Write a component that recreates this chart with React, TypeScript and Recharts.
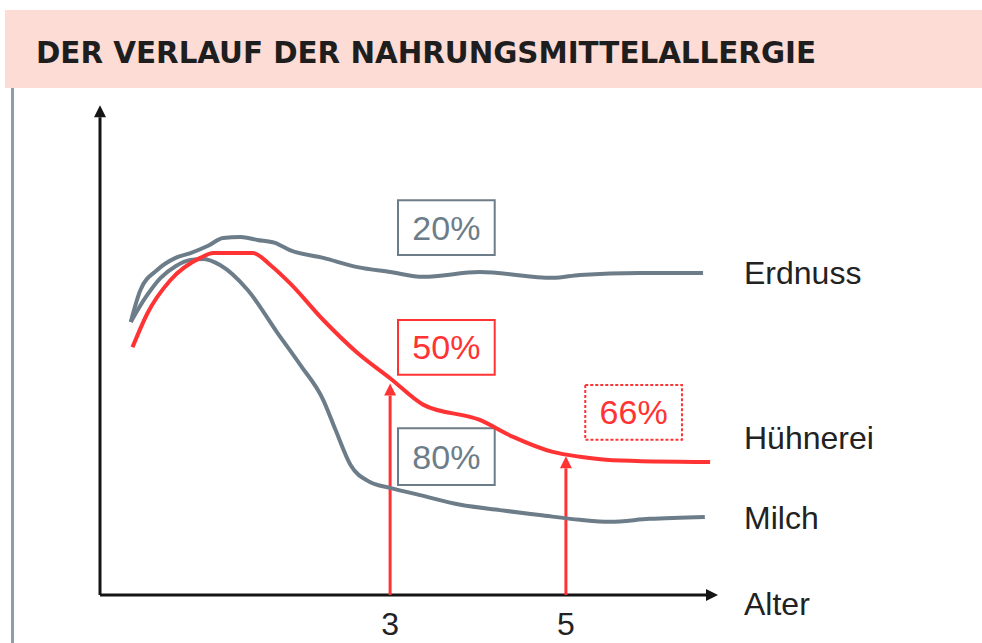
import React from "react";
import { LineChart, Line, XAxis, YAxis, ReferenceArea, ReferenceLine } from "recharts";

// curve points: age (years) and relative share (0-100, no scale shown)
const erdnussAge = [0.05, 0.16, 0.35, 0.56, 0.73, 0.93, 1.1, 1.3, 1.49, 1.69, 1.86, 2.24, 2.63, 3.0, 3.38, 4.02, 4.85, 5.16, 5.84, 6.56];
const erdnussVal = [56.3, 62.9, 67.0, 69.5, 70.5, 72.0, 73.6, 73.8, 73.2, 72.6, 71.1, 69.5, 67.6, 66.6, 65.6, 66.6, 65.4, 66.0, 66.4, 66.4];

const milchAge = [0.05, 0.22, 0.39, 0.56, 0.73, 0.88, 1.07, 1.38, 1.72, 1.98, 2.24, 2.38, 2.55, 2.77, 3.0, 3.34, 3.8, 4.25, 4.7, 5.16, 5.5, 5.95, 6.58];
const milchVal = [56.3, 61.4, 65.4, 67.8, 69.1, 69.3, 68.0, 62.9, 54.0, 47.4, 40.2, 34.0, 26.8, 23.3, 22.1, 20.6, 18.6, 17.5, 16.5, 15.5, 15.1, 15.7, 16.1];

const eiAge = [0.07, 0.24, 0.5, 0.84, 0.99, 1.44, 1.64, 1.86, 2.24, 2.63, 3.0, 3.38, 4.02, 4.4, 4.85, 5.16, 5.53, 6.64];
const eiVal = [51.1, 58.1, 64.9, 69.5, 70.5, 70.5, 68.0, 64.3, 56.7, 49.9, 44.7, 39.2, 36.1, 32.6, 29.5, 28.5, 27.8, 27.4];

const xTicks = [3, 5];
const seriesNames = ["Erdnuss", "Hühnerei", "Milch"];
const boxLabels = ["20%", "50%", "80%", "66%"];

const toRows = (ages: number[], vals: number[]) => ages.map((x, i) => ({ x, y: vals[i] }));
const erdnuss = toRows(erdnussAge, erdnussVal);
const milch = toRows(milchAge, milchVal);
const ei = toRows(eiAge, eiVal);

const GRAY = "#6c7d89";
const RED = "#ff3333";
const FONT = "'Liberation Sans', Arial, sans-serif";

const arrow = (color: string, w: number) => (p: any) => {
  const { x1, y1, x2, y2 } = p;
  const ang = Math.atan2(y2 - y1, x2 - x1);
  const len = 12;
  const half = 6;
  const bx = x2 - len * Math.cos(ang);
  const by = y2 - len * Math.sin(ang);
  const px = -Math.sin(ang) * half;
  const py = Math.cos(ang) * half;
  return (
    <g>
      <line x1={x1} y1={y1} x2={bx} y2={by} stroke={color} strokeWidth={w} />
      <polygon points={`${x2},${y2} ${bx + px},${by + py} ${bx - px},${by - py}`} fill={color} />
    </g>
  );
};

const AgeTick = (p: any) => (
  <text x={p.x} y={p.y + 38} textAnchor="middle" fontFamily={FONT} fontSize={32} fill="#222">
    {p.payload.value}
  </text>
);

const box = (x1: number, x2: number, y1: number, y2: number, label: string, color: string, dashed = false) => (
  <ReferenceArea
    key={label}
    x1={x1}
    x2={x2}
    y1={y1}
    y2={y2}
    fill="#ffffff"
    fillOpacity={1}
    stroke={color}
    strokeWidth={2}
    strokeDasharray={dashed ? "3 2" : undefined}
    ifOverflow="visible"
    label={{ value: label, position: "center", fill: color, fontSize: 34, fontFamily: FONT }}
  />
);

export default function App() {
  return (
    <div style={{ position: "absolute", left: 0, top: 0, width: 982, height: 643, background: "#fff", overflow: "hidden" }}>
      <div style={{ position: "absolute", left: 5, top: 10, width: 977, height: 78, background: "#fddcd5" }} />
      <div style={{ position: "absolute", left: 11, top: 88, width: 3, height: 555, background: "#8d9daa" }} />
      <svg style={{ position: "absolute", left: 0, top: 0 }} width={982} height={100}>
        <text x={36} y={63} textLength={780} lengthAdjust="spacingAndGlyphs" fontFamily="'Liberation Sans Narrow', 'DejaVu Sans Condensed', sans-serif" fontWeight="bold" fontSize={31} fill="#1e1e1e">
          DER VERLAUF DER NAHRUNGSMITTELALLERGIE
        </text>
      </svg>
      <div style={{ position: "absolute", left: 0, top: 0 }}>
        <LineChart width={982} height={643} margin={{ top: 110, right: 264, bottom: 8, left: 100 }}>
          <XAxis
            type="number"
            dataKey="x"
            domain={[-0.3, 6.73]}
            allowDataOverflow
            ticks={xTicks}
            axisLine={false}
            tickLine={false}
            tickSize={0}
            height={40}
            tick={AgeTick}
          />
          <YAxis type="number" domain={[0, 100]} hide allowDataOverflow />
          <ReferenceLine segment={[{ x: -0.3, y: 0 }, { x: -0.3, y: 101 }]} ifOverflow="visible" shape={arrow("#151515", 3)} />
          <ReferenceLine segment={[{ x: -0.3, y: 0 }, { x: 6.73, y: 0 }]} ifOverflow="visible" shape={arrow("#151515", 3)} />
          <ReferenceLine segment={[{ x: 3, y: 0 }, { x: 3, y: 43.6 }]} ifOverflow="visible" shape={arrow(RED, 3)} />
          <ReferenceLine segment={[{ x: 5, y: 0 }, { x: 5, y: 28.6 }]} ifOverflow="visible" shape={arrow(RED, 3)} />
          <Line data={erdnuss} dataKey="y" type="monotone" stroke={GRAY} strokeWidth={4} dot={false} isAnimationActive={false} />
          <Line data={milch} dataKey="y" type="monotone" stroke={GRAY} strokeWidth={4} dot={false} isAnimationActive={false} />
          <Line data={ei} dataKey="y" type="monotone" stroke={RED} strokeWidth={4} dot={false} isAnimationActive={false} />
          {box(3.09, 4.19, 70.1, 81.4, boxLabels[0], GRAY)}
          {box(3.09, 4.19, 45.4, 56.7, boxLabels[1], RED)}
          {box(3.09, 4.19, 22.7, 34.4, boxLabels[2], GRAY)}
          {box(5.22, 6.32, 32.0, 43.3, boxLabels[3], RED, true)}
        </LineChart>
      </div>
      <svg style={{ position: "absolute", left: 0, top: 0 }} width={982} height={643}>
        <g fontFamily={FONT} fontSize={32} fill="#222">
          <text x={744} y={284}>{seriesNames[0]}</text>
          <text x={744} y={449}>{seriesNames[1]}</text>
          <text x={744} y={529}>{seriesNames[2]}</text>
          <text x={744} y={615}>Alter</text>
        </g>
      </svg>
    </div>
  );
}
